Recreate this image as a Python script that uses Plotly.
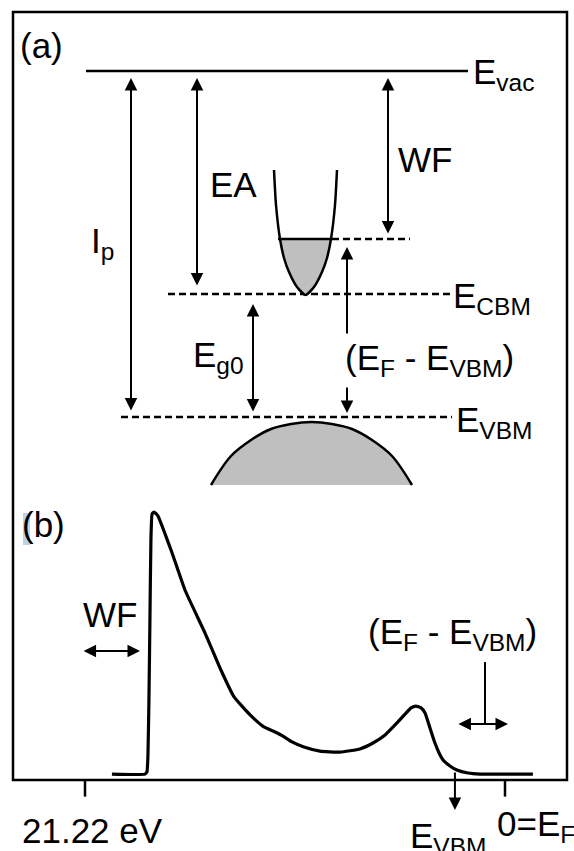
import plotly.graph_objects as go

FONT = "Liberation Sans, Arial, Helvetica, sans-serif"
FS = 35
INK = "black"
GRAY = "#bfbfbf"

# ---------------- panel (a): schematic energy-level diagram (diagram units, y down) ----------------
vac_y = 71
vac_x = [86, 468]
fermi_y = 239
fermi_solid_x = [278, 332]
fermi_dash_x = [332, 410]
cbm_y = 294
cbm_x = [168, 452]
vbm_y = 417
vbm_x = [121, 452]

# conduction band (parabola outline) and its filled part below E_F
cb_x = [274, 276, 280, 284, 289, 297, 305.5, 314, 322, 327, 331, 335, 337]
cb_y = [170, 205, 239, 258, 272, 287, 295, 287, 272, 258, 239, 205, 170]
cb_fill_x = [279.5, 284, 289, 297, 305.5, 314, 322, 327, 331.5]
cb_fill_y = [239, 258, 272, 287, 295, 287, 272, 258, 239]

# valence band dome
vb_x = [211, 231, 251, 271, 291, 311.5, 332, 352, 372, 392, 412]
vb_y = [485, 456, 440, 429, 424, 422, 424, 429, 440, 456, 485]

# vertical arrows: (x, y_from, y_to, double headed)
arrows_a = [
    (131, 412, 78, True),    # I_p
    (197, 287, 78, True),    # EA
    (388, 235, 78, True),    # WF
    (253, 413, 304, True),   # E_g0
    (347, 335, 247, False),  # (E_F - E_VBM) upper part
    (347, 386, 413, False),  # (E_F - E_VBM) lower part
]

labels_a = [
    ("(a)", 18, 45),
    ("E<sub>vac</sub>", 471, 73.5),
    ("WF", 396, 159),
    ("EA", 208, 184),
    ("I<sub>p</sub>", 89, 243),
    ("E<sub>CBM</sub>", 451, 297.5),
    ("E<sub>g0</sub>", 191, 357),
    ("(E<sub>F</sub> - E<sub>VBM</sub>)", 343, 360),
    ("E<sub>VBM</sub>", 454, 421.5),
]

box = (13, 12, 567, 780)

# ---------------- panel (b): UPS spectrum (binding energy in eV, normalised intensity) ----------------
spec_ev = [19.86, 18.19, 18.09, 18.04, 17.99, 17.94, 17.89, 17.83, 17.73, 17.53, 17.23, 16.82,
           16.17, 15.16, 14.40, 13.69, 12.88, 12.18, 11.62, 11.22, 10.76, 10.16, 9.35, 8.34,
           7.33, 6.67, 6.06, 5.46, 5.05, 4.75, 4.50, 4.24, 4.04, 3.79, 3.54, 3.33, 3.13,
           2.78, 2.43, 1.87, 1.26, -1.41]
spec_int = [0.022, 0.022, 0.030, 0.093, 0.299, 0.597, 0.896, 0.993, 1.000, 0.985, 0.929, 0.847,
            0.709, 0.549, 0.418, 0.310, 0.243, 0.198, 0.179, 0.164, 0.142, 0.123, 0.108, 0.104,
            0.116, 0.138, 0.168, 0.213, 0.246, 0.269, 0.276, 0.269, 0.250, 0.194, 0.138, 0.101, 0.075,
            0.052, 0.037, 0.026, 0.022, 0.022]

tick_ev = [21.22, 0.0]
tick_len = 0.062

wf_arrow_ev = [21.37, 18.44]
wf_arrow_int = 0.481
efv_line_ev = 1.01
efv_line_int = [0.440, 0.209]
efv_arrow_ev = [2.43, -0.15]
vbm_arrow_ev = 2.53
vbm_arrow_int = [0.034, -0.112]

labels_b = [
    ("(b)", 20, 0.953),
    ("WF", 81, 0.618),
    ("(E<sub>F</sub> - E<sub>VBM</sub>)", 366, 0.544),
    ("21.22 eV", 20, -0.190),
    ("E<sub>VBM</sub>", 408, -0.216),
    ("0=E<sub>F</sub>", 495, -0.173),
]

# axis geometry for panel (b)
X2_RANGE = [25.515, -3.486]
Y2_RANGE = [-0.2649, 1.05]
Y2_DOMAIN = [0.0, 0.4141]

fig = go.Figure()

# ---- panel (a) traces ----
line_kw = dict(color=INK, width=2.5)
fig.add_trace(go.Scatter(x=vac_x, y=[vac_y, vac_y], mode="lines", line=line_kw, xaxis="x", yaxis="y"))
for xs, yv in [(fermi_dash_x, fermi_y), (cbm_x, cbm_y), (vbm_x, vbm_y)]:
    fig.add_trace(go.Scatter(x=xs, y=[yv, yv], mode="lines",
                             line=dict(color=INK, width=2.5, dash="7px,4px"), xaxis="x", yaxis="y"))

fig.add_trace(go.Scatter(x=cb_fill_x, y=cb_fill_y, mode="lines", fill="toself", fillcolor=GRAY,
                         line=dict(width=0, shape="spline", smoothing=0.6), xaxis="x", yaxis="y"))
fig.add_trace(go.Scatter(x=cb_x, y=cb_y, mode="lines",
                         line=dict(color=INK, width=2.5, shape="spline", smoothing=0.6), xaxis="x", yaxis="y"))
fig.add_trace(go.Scatter(x=fermi_solid_x, y=[fermi_y, fermi_y], mode="lines", line=line_kw, xaxis="x", yaxis="y"))

fig.add_trace(go.Scatter(x=vb_x, y=vb_y, mode="lines", fill="toself", fillcolor=GRAY,
                         line=dict(width=0, shape="spline"), xaxis="x", yaxis="y"))
fig.add_trace(go.Scatter(x=vb_x, y=vb_y, mode="lines",
                         line=dict(color=INK, width=2.5, shape="spline"), xaxis="x", yaxis="y"))

# ---- panel (b) traces ----
fig.add_trace(go.Scatter(x=spec_ev, y=spec_int, mode="lines",
                         line=dict(color=INK, width=3.2, shape="spline", smoothing=0.4),
                         xaxis="x2", yaxis="y2"))
for t in tick_ev:
    fig.add_trace(go.Scatter(x=[t, t], y=[0, -tick_len], mode="lines", line=dict(color=INK, width=2.5),
                             xaxis="x2", yaxis="y2"))
fig.add_trace(go.Scatter(x=[efv_line_ev, efv_line_ev], y=efv_line_int, mode="lines",
                         line=dict(color=INK, width=2), xaxis="x2", yaxis="y2"))

annotations = []
arrow_kw = dict(showarrow=True, text="", arrowhead=2, arrowsize=1.25, arrowwidth=2,
                arrowcolor=INK, standoff=0, startstandoff=0, startarrowhead=2, startarrowsize=1.25)

for x, y0, y1, both in arrows_a:
    annotations.append(dict(x=x, y=y1, ax=x, ay=y0, xref="x", yref="y", axref="x", ayref="y",
                            arrowside="end+start" if both else "end", **arrow_kw))

annotations.append(dict(x=wf_arrow_ev[1], y=wf_arrow_int, ax=wf_arrow_ev[0], ay=wf_arrow_int,
                        xref="x2", yref="y2", axref="x2", ayref="y2", arrowside="end+start", **arrow_kw))
annotations.append(dict(x=efv_arrow_ev[1], y=efv_line_int[1], ax=efv_arrow_ev[0], ay=efv_line_int[1],
                        xref="x2", yref="y2", axref="x2", ayref="y2", arrowside="end+start", **arrow_kw))
annotations.append(dict(x=vbm_arrow_ev, y=vbm_arrow_int[1], ax=vbm_arrow_ev, ay=vbm_arrow_int[0],
                        xref="x2", yref="y2", axref="x2", ayref="y2", arrowside="end", **arrow_kw))

text_font = dict(family=FONT, size=FS, color=INK)
for txt, x, y in labels_a:
    annotations.append(dict(text=txt, x=x, y=y, xref="x", yref="y", showarrow=False,
                            xanchor="left", yanchor="middle", font=text_font))
for txt, px, y in labels_b:
    annotations.append(dict(text=txt, x=px / 574, y=y, xref="paper", yref="y2", showarrow=False,
                            xanchor="left", yanchor="middle", font=text_font))

shapes = [
    dict(type="rect", xref="x", yref="y", x0=23, x1=30, y0=513, y1=545,
         fillcolor="#b9d3ec", line=dict(width=0), layer="below"),
    dict(type="rect", xref="x", yref="y", x0=box[0], y0=box[1], x1=box[2], y1=box[3],
         line=dict(color=INK, width=2.5), fillcolor="rgba(0,0,0,0)"),
]

fig.update_layout(
    width=574, height=851,
    margin=dict(l=0, r=0, t=0, b=0, pad=0),
    paper_bgcolor="white", plot_bgcolor="rgba(0,0,0,0)",
    showlegend=False,
    xaxis=dict(range=[0, 574], domain=[0, 1], visible=False, fixedrange=True),
    yaxis=dict(range=[851, 0], domain=[0, 1], visible=False, fixedrange=True),
    xaxis2=dict(range=X2_RANGE, domain=[0, 1], anchor="y2", visible=False, fixedrange=True),
    yaxis2=dict(range=Y2_RANGE, domain=Y2_DOMAIN, anchor="x2", visible=False, fixedrange=True),
    annotations=annotations,
    shapes=shapes,
)

fig.write_html("out.html", config={"displayModeBar": False},
               post_script="document.body.style.margin='0px';document.body.style.overflow='hidden';")
